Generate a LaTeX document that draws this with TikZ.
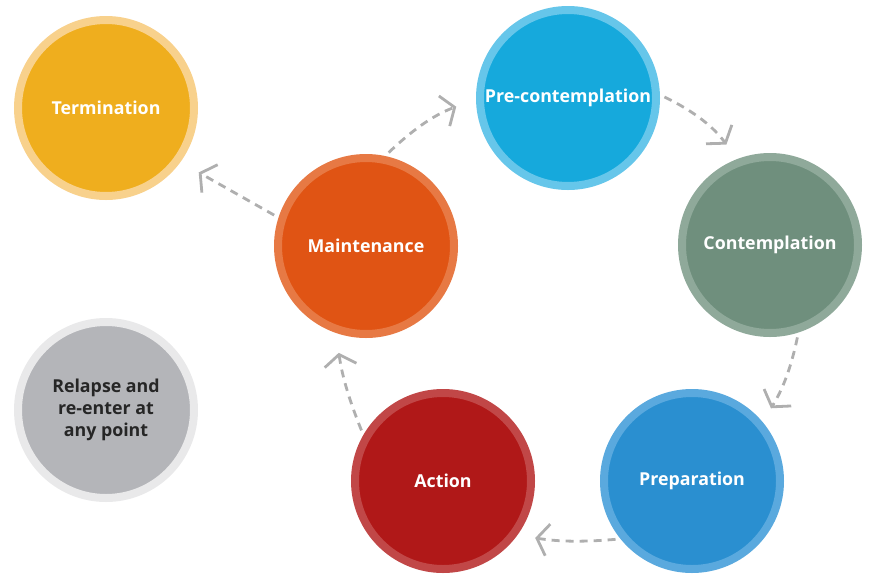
\documentclass[tikz,border=0pt]{standalone}
\usepackage{fontspec}
\setmainfont{Open Sans}
\usetikzlibrary{arrows.meta,positioning}
\definecolor{termin}{HTML}{EFAE1E}
\definecolor{terminring}{HTML}{F8D18C}
\definecolor{precon}{HTML}{16A9DC}
\definecolor{preconring}{HTML}{66C6EA}
\definecolor{contem}{HTML}{6F8F7D}
\definecolor{contemring}{HTML}{8FA99A}
\definecolor{prepar}{HTML}{2A8FD0}
\definecolor{preparring}{HTML}{5AA9DE}
\definecolor{action}{HTML}{B01818}
\definecolor{actionring}{HTML}{C14747}
\definecolor{mainten}{HTML}{E05414}
\definecolor{maintenring}{HTML}{E77944}
\definecolor{relapse}{HTML}{B4B5B9}
\definecolor{relapsering}{HTML}{E9E9EA}
\definecolor{arrowgray}{HTML}{AFAFAF}

\begin{document}
\begin{tikzpicture}[x=1pt,y=-1pt,line cap=round,
  stage/.style={circle,minimum size=176pt,inner sep=0pt,line width=8pt,text=white,align=center,
    font=\bfseries\fontsize{17.8}{22}\selectfont},
  flow/.style={draw=arrowgray,line width=2.8pt,line cap=butt,dash pattern=on 8pt off 6pt,
    shorten <=5pt,-{Straight Barb[length=11pt,width=32pt,line width=2.8pt]}}]
\useasboundingbox (0,0) rectangle (870,579);
% stages
\node[stage,fill=termin,draw=terminring] (term) at (106,108) {Termination};
\node[stage,fill=precon,draw=preconring] (pre) at (568,98) {Pre-contemplation};
\node[stage,fill=contem,draw=contemring] (cont) at (770,245) {Contemplation};
\node[stage,fill=prepar,draw=preparring] (prep) at (692,481) {Preparation};
\node[stage,fill=action,draw=actionring] (act) at (443,481) {Action};
\node[stage,fill=mainten,draw=maintenring] (main) at (366,246) {Maintenance};
\node[stage,fill=relapse,draw=relapsering,text=black!85] (relap) at (106,410) {Relapse and\\re-enter at\\any point};
% arrows
\draw[flow,shorten >=21pt] (main.78) to[bend left=12] (pre.181);
\draw[flow,shorten >=18pt] (pre.2) to[bend left=14] (cont.111);
\draw[flow,shorten >=16pt] (cont.-72) to[bend left=10] (prep.40);
\draw[flow,shorten >=18pt] (prep.-141) to[bend left=7] (act.-36);
\draw[flow,shorten >=20pt] (act.150) to[bend left=7] (main.-109);
\draw[flow,shorten >=21pt] (main.162) -- (term.-36);
\end{tikzpicture}
\end{document}
